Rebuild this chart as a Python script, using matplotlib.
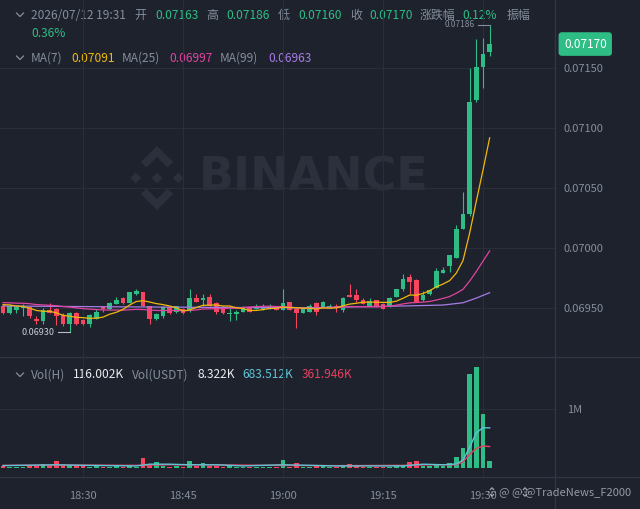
import numpy as np
import pandas as pd
import matplotlib
matplotlib.use('Agg')
import matplotlib.pyplot as plt
import matplotlib.transforms as mtrans
from matplotlib.patches import Polygon

plt.rcParams['font.family'] = ['Noto Sans CJK SC', 'DejaVu Sans']

# 1m candles, 18:18 -> 19:31
start_time = '18:18'
tick_labels = ['18:30', '18:45', '19:00', '19:15', '19:30']

opens = [
    0.06952, 0.06946, 0.06948, 0.06950, 0.06951, 0.06941, 0.06939, 0.06948, 0.06949, 0.06944,
    0.06937, 0.06946, 0.06940, 0.06937, 0.06941, 0.06951, 0.06949, 0.06953, 0.06958, 0.06954,
    0.06962, 0.06963, 0.06952, 0.06941, 0.06943, 0.06951, 0.06947, 0.06949, 0.06948, 0.06958,
    0.06957, 0.06959, 0.06954, 0.06951, 0.06945, 0.06945, 0.06947, 0.06950, 0.06949, 0.06948,
    0.06949, 0.06951, 0.06948, 0.06955, 0.06949, 0.06946, 0.06947, 0.06954, 0.06950, 0.06951,
    0.06952, 0.06948, 0.06961, 0.06961, 0.06957, 0.06952, 0.06957, 0.06953, 0.06952, 0.06959,
    0.06966, 0.06976, 0.06973, 0.06957, 0.06962, 0.06967, 0.06979, 0.06985, 0.06992, 0.07016,
    0.07028, 0.07123, 0.07151, 0.07163]
closes = [
    0.06946, 0.06952, 0.06951, 0.06952, 0.06943, 0.06939, 0.06948, 0.06946, 0.06943, 0.06937,
    0.06946, 0.06937, 0.06937, 0.06944, 0.06947, 0.06949, 0.06954, 0.06957, 0.06954, 0.06963,
    0.06964, 0.06952, 0.06941, 0.06945, 0.06951, 0.06946, 0.06952, 0.06946, 0.06958, 0.06955,
    0.06958, 0.06952, 0.06947, 0.06946, 0.06946, 0.06947, 0.06951, 0.06947, 0.06952, 0.06952,
    0.06952, 0.06948, 0.06954, 0.06948, 0.06946, 0.06949, 0.06952, 0.06947, 0.06955, 0.06952,
    0.06950, 0.06958, 0.06959, 0.06957, 0.06953, 0.06956, 0.06951, 0.06949, 0.06958, 0.06966,
    0.06974, 0.06972, 0.06955, 0.06961, 0.06965, 0.06981, 0.06982, 0.06994, 0.07016, 0.07028,
    0.07122, 0.07151, 0.07162, 0.07170]
highs = [
    0.06953, 0.06953, 0.06952, 0.06953, 0.06952, 0.06943, 0.06950, 0.06954, 0.06950, 0.06946,
    0.06947, 0.06947, 0.06941, 0.06945, 0.06949, 0.06952, 0.06955, 0.06959, 0.06959, 0.06963,
    0.06966, 0.06963, 0.06952, 0.06946, 0.06952, 0.06951, 0.06952, 0.06950, 0.06966, 0.06962,
    0.06962, 0.06962, 0.06955, 0.06952, 0.06950, 0.06948, 0.06952, 0.06951, 0.06953, 0.06953,
    0.06953, 0.06952, 0.06966, 0.06955, 0.06950, 0.06950, 0.06953, 0.06955, 0.06956, 0.06953,
    0.06953, 0.06959, 0.06970, 0.06966, 0.06958, 0.06958, 0.06957, 0.06954, 0.06959, 0.06966,
    0.06978, 0.06978, 0.06974, 0.06964, 0.06966, 0.06983, 0.06984, 0.06994, 0.07019, 0.07047,
    0.07150, 0.07174, 0.07175, 0.07186]
lows = [
    0.06945, 0.06945, 0.06946, 0.06943, 0.06942, 0.06937, 0.06937, 0.06946, 0.06936, 0.06935,
    0.06930, 0.06936, 0.06936, 0.06934, 0.06941, 0.06947, 0.06948, 0.06953, 0.06953, 0.06954,
    0.06961, 0.06952, 0.06937, 0.06940, 0.06942, 0.06945, 0.06946, 0.06945, 0.06947, 0.06955,
    0.06952, 0.06952, 0.06945, 0.06945, 0.06939, 0.06940, 0.06947, 0.06947, 0.06949, 0.06948,
    0.06949, 0.06948, 0.06948, 0.06948, 0.06933, 0.06946, 0.06947, 0.06944, 0.06950, 0.06950,
    0.06947, 0.06947, 0.06959, 0.06955, 0.06953, 0.06952, 0.06951, 0.06949, 0.06951, 0.06959,
    0.06964, 0.06962, 0.06955, 0.06956, 0.06961, 0.06967, 0.06979, 0.06980, 0.06992, 0.07016,
    0.07027, 0.07122, 0.07133, 0.07160]

# closes before the visible window (seed for the moving averages)
earlier_closes = [
    0.06956, 0.06958, 0.06954, 0.06953, 0.06957, 0.06955, 0.06953, 0.06952, 0.06955, 0.06957,
    0.06954, 0.06952, 0.06955, 0.06956, 0.06957, 0.06955, 0.06958, 0.06956, 0.06954, 0.06957,
    0.06955, 0.06953, 0.06952, 0.06953]

# MA(99)
ma99_idx = [0, 15, 30, 45, 60, 66, 69, 71, 73]
ma99_vals = [0.069517, 0.069511, 0.069506, 0.069502, 0.069517, 0.069525, 0.069544, 0.069583, 0.069628]

# header readouts as shown
ma_labels = ['MA(7)', 'MA(25)', 'MA(99)']
ma_readout = ['0.07091', '0.06997', '0.06963']
change_pct = '0.12%'
amplitude_pct = '0.36%'
vol_readout = ['116.002K', '8.322K', '683.512K', '361.946K']

# volume (millions)
volumes = [
    0.035, 0.020, 0.020, 0.020, 0.030, 0.030, 0.070, 0.030, 0.110, 0.040,
    0.040, 0.030, 0.030, 0.020, 0.050, 0.020, 0.020, 0.030, 0.020, 0.030,
    0.020, 0.170, 0.040, 0.100, 0.030, 0.020, 0.030, 0.020, 0.120, 0.030,
    0.085, 0.030, 0.030, 0.020, 0.040, 0.020, 0.020, 0.020, 0.020, 0.020,
    0.020, 0.020, 0.130, 0.020, 0.080, 0.020, 0.020, 0.030, 0.030, 0.020,
    0.010, 0.030, 0.070, 0.030, 0.020, 0.020, 0.020, 0.010, 0.020, 0.030,
    0.030, 0.100, 0.120, 0.030, 0.030, 0.070, 0.030, 0.080, 0.180, 0.330,
    1.600, 1.730, 0.920, 0.116]
vol_ma5_idx = [0, 8, 12, 20, 22, 25, 28, 32, 36, 42, 46, 50, 55, 60, 63, 66, 68, 69, 70, 71, 72, 73]
vol_ma5_vals = [0.035, 0.050, 0.040, 0.030, 0.060, 0.060, 0.050, 0.050, 0.030, 0.050, 0.040,
                0.030, 0.030, 0.030, 0.060, 0.050, 0.063, 0.130, 0.350, 0.600, 0.686, 0.6835]
vol_ma10_idx = [0, 10, 20, 25, 30, 40, 50, 60, 64, 67, 68, 69, 70, 71, 72, 73]
vol_ma10_vals = [0.040, 0.045, 0.040, 0.050, 0.050, 0.040, 0.035, 0.040, 0.050, 0.050,
                 0.050, 0.100, 0.230, 0.330, 0.372, 0.362]

BG = '#1e222d'
GRID = '#2a2e39'
SEP = '#323642'
GREY = '#848e9c'
UP = '#2ebd85'
DOWN = '#f6465d'
C_MA7 = '#f0b90b'
C_MA25 = '#e0449f'
C_MA99 = '#a77be6'
C_VMA5 = '#5ec4d6'
C_VMA10 = '#e5405e'

n = len(closes)
x = np.arange(n)
o = np.array(opens); c = np.array(closes); h = np.array(highs); l = np.array(lows)
cols = [UP if cc >= oo else DOWN for oo, cc in zip(o, c)]

all_close = pd.Series(earlier_closes + closes)
ma7 = all_close.rolling(7).mean().iloc[len(earlier_closes):].values
ma25 = all_close.rolling(25).mean().iloc[len(earlier_closes):].values

t0 = pd.Timestamp('2026-07-12 ' + start_time)
tick_pos = [(pd.Timestamp('2026-07-12 ' + t) - t0).seconds // 60 for t in tick_labels]

W, H = 640, 509
fig = plt.figure(figsize=(6.4, 5.09), dpi=100, facecolor=BG)

# background layer in pixel coordinates
bg = fig.add_axes([0, 0, 1, 1])
bg.set_xlim(0, W); bg.set_ylim(H, 0); bg.axis('off')
bg.set_facecolor(BG)


def logo(cx, cy, s, color, ax_, alpha=1.0):
    shapes = [
        [(0, 1.0), (0.5, 0.5), (0.33, 0.33), (0, 0.66), (-0.33, 0.33), (-0.5, 0.5)],
        [(0, -1.0), (0.5, -0.5), (0.33, -0.33), (0, -0.66), (-0.33, -0.33), (-0.5, -0.5)],
        [(0, 0.17), (0.17, 0), (0, -0.17), (-0.17, 0)],
        [(0.66, 0.17), (0.83, 0), (0.66, -0.17), (0.49, 0)],
        [(-0.66, 0.17), (-0.49, 0), (-0.66, -0.17), (-0.83, 0)],
    ]
    for sh in shapes:
        pts = [(cx + s * px, cy - s * py) for px, py in sh]
        ax_.add_patch(Polygon(pts, closed=True, fc=color, ec='none', alpha=alpha))


WM = '#2b303c'
logo(157, 178, 32, WM, bg)
bg.text(314, 178, 'BINANCE', color=WM, fontsize=33, fontweight='bold',
        ha='center', va='center', family='DejaVu Sans')

# panel separators
bg.plot([0, W], [357, 357], color=SEP, lw=1)
bg.plot([0, W], [477, 477], color=SEP, lw=1)
bg.plot([555, 555], [0, H], color=SEP, lw=1)

# main price panel
ax = fig.add_axes([0, 152 / H, 555 / W, 357 / H])
ax.set_facecolor('none')
for sp in ax.spines.values():
    sp.set_visible(False)
ax.set_xlim(-0.45, 82.8)
ax.set_ylim(0.069092, 0.072067)
ax.set_yticks([0.0695, 0.0700, 0.0705, 0.0710, 0.0715])
ax.yaxis.set_major_formatter(matplotlib.ticker.FormatStrFormatter('%.5f'))
ax.yaxis.tick_right()
ax.tick_params(axis='y', length=0, pad=6, labelsize=8, labelcolor=GREY)
ax.set_xticks(tick_pos)
ax.tick_params(axis='x', length=0, labelbottom=False)
ax.grid(True, color=GRID, lw=0.8)
ax.set_axisbelow(True)

ax.vlines(x, l, h, colors=cols, lw=0.8, zorder=3)
body = np.maximum(np.abs(c - o), 0.000004)
ax.bar(x, body, bottom=np.minimum(o, c), width=0.68, color=cols, zorder=3)

ax.plot(ma99_idx, ma99_vals, color=C_MA99, lw=0.9, zorder=4)
ax.plot(x, ma25, color=C_MA25, lw=0.9, zorder=4)
ax.plot(x, ma7, color=C_MA7, lw=0.9, zorder=4)

# high / low markers
ih = int(np.argmax(h)); il = int(np.argmin(l))
ax.plot([ih - 1.8, ih], [h[ih], h[ih]], color=GREY, lw=0.8, zorder=4)
ax.text(ih - 2.3, h[ih], '%.5f' % h[ih], color=GREY, fontsize=6, ha='right', va='center')
ax.plot([il - 1.8, il], [l[il], l[il]], color='#b7bdc6', lw=0.8, zorder=4)
ax.text(il - 2.2, l[il], '%.5f' % l[il], color='#c8ccd3', fontsize=6.5, ha='right', va='center')

# last price tag
blend = mtrans.blended_transform_factory(ax.transAxes, ax.transData)
ax.text(1.016, c[-1], '%.5f' % c[-1], transform=blend, color='white', fontsize=8.5,
        ha='left', va='center', clip_on=False, zorder=6,
        bbox=dict(boxstyle='round,pad=0.45,rounding_size=0.3', fc=UP, ec='none'))

# volume panel
vax = fig.add_axes([0, 32 / H, 555 / W, 120 / H], sharex=ax)
vax.set_facecolor('none')
for sp in vax.spines.values():
    sp.set_visible(False)
vax.set_ylim(-0.16, 1.90)
vax.bar(x, volumes, width=0.68, color=cols, zorder=3)
vax.plot(vol_ma10_idx, vol_ma10_vals, color=C_VMA10, lw=1.0, zorder=4)
vax.plot(vol_ma5_idx, vol_ma5_vals, color=C_VMA5, lw=1.0, zorder=4)
vax.set_yticks([1.0])
vax.set_yticklabels(['1M'])
vax.yaxis.tick_right()
vax.tick_params(axis='y', length=0, pad=9, labelsize=8, labelcolor=GREY)
vax.set_xticks(tick_pos)
vax.set_xticklabels(tick_labels)
vax.tick_params(axis='x', length=0, pad=10, labelsize=8, labelcolor=GREY)
vax.grid(True, color=GRID, lw=0.8)
vax.set_axisbelow(True)


def chevron(px, py):
    bg.plot([px - 3.5, px, px + 3.5], [py - 2, py + 1.5, py - 2], color=GREY, lw=0.9)


# header rows
FS = 8.6
chevron(20, 15)
row1 = [(31, '2026/07/12 19:31', GREY), (134, '开', GREY), (155, '%.5f' % o[-1], UP),
        (206, '高', GREY), (226, '%.5f' % h[-1], UP), (278, '低', GREY),
        (298, '%.5f' % l[-1], UP), (350, '收', GREY), (369, '%.5f' % c[-1], UP),
        (420, '涨跌幅', GREY), (462, change_pct, UP), (507, '振幅', GREY)]
for px, s, col in row1:
    bg.text(px, 15, s, color=col, fontsize=FS, va='center', ha='left')
bg.text(31, 33, amplitude_pct, color=UP, fontsize=FS, va='center', ha='left')

chevron(20, 58)
row3 = [(31, ma_labels[0], GREY), (71, ma_readout[0], C_MA7),
        (122, ma_labels[1], GREY), (169, ma_readout[1], C_MA25),
        (220, ma_labels[2], GREY), (268, ma_readout[2], C_MA99)]
for px, s, col in row3:
    bg.text(px, 58, s, color=col, fontsize=FS, va='center', ha='left')

chevron(20, 375)
row4 = [(31, 'Vol(H)', GREY), (73, vol_readout[0], '#eaecef'), (132, 'Vol(USDT)', GREY),
        (197, vol_readout[1], '#eaecef'), (242, vol_readout[2], C_VMA5),
        (302, vol_readout[3], C_VMA10)]
for px, s, col in row4:
    bg.text(px, 375, s, color=col, fontsize=FS, va='center', ha='left')

# corner watermark
top = fig.add_axes([0, 0, 1, 1])
top.set_xlim(0, W); top.set_ylim(H, 0); top.axis('off')
logo(492, 492, 5, '#c9ccd3', top, alpha=0.8)
logo(525, 492, 5, '#c9ccd3', top, alpha=0.8)
top.text(499, 492, '@ @ @TradeNews_F2000', color='#c9ccd3', fontsize=8, va='center', alpha=0.7)

fig.savefig('out.png', dpi=100, facecolor=BG)
